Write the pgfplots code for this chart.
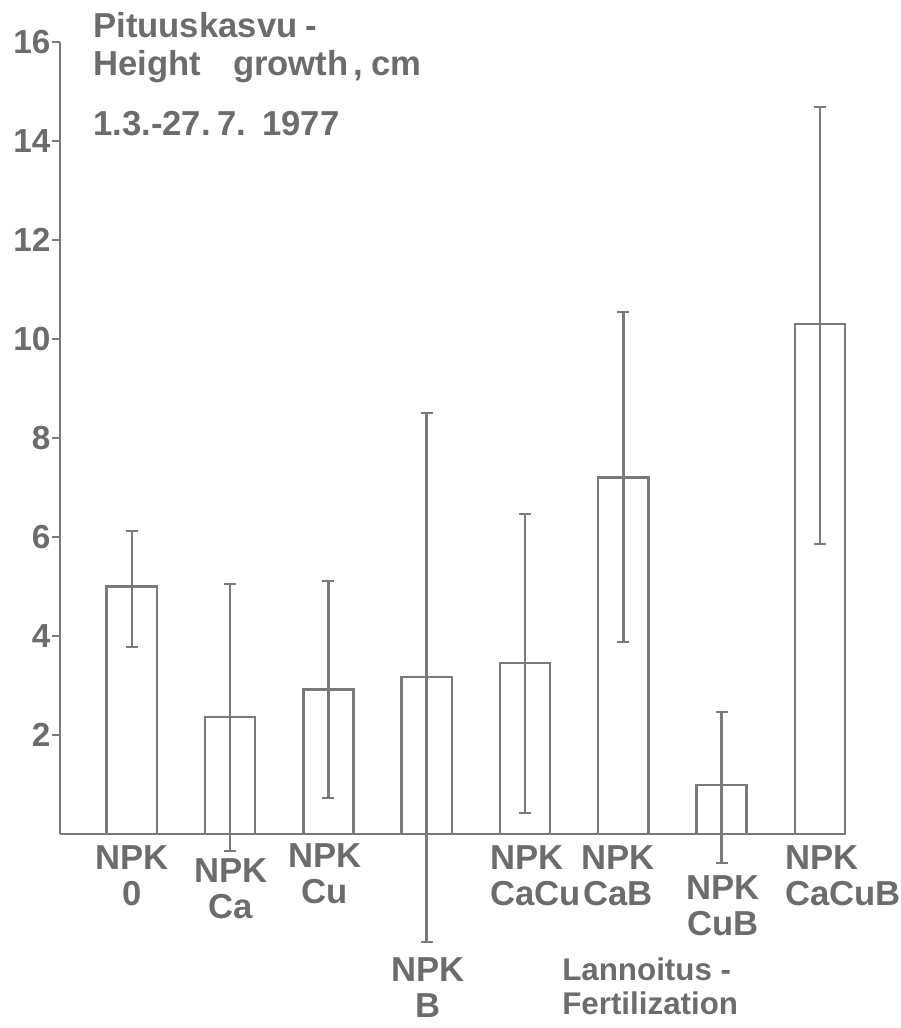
\documentclass[border=0pt]{standalone}
\usepackage{fontspec}
\setmainfont{Liberation Sans}
\usepackage{pgfplots}
\pgfplotsset{compat=1.18}
\definecolor{ink}{HTML}{7A7A7A}
\definecolor{txt}{HTML}{6C6C6C}
\begin{document}
% 1 px of the reference = 0.75pt
\begin{tikzpicture}
\path[use as bounding box] (-45pt,-145.5pt) rectangle (630pt,625.5pt);
\begin{axis}[
  at={(0,0)}, anchor=south west,
  scale only axis, width=588.75pt, height=594pt,
  xmin=0.27, xmax=8.255, ymin=0, ymax=16,
  axis x line*=bottom, axis y line*=left,
  axis line style={ink, line width=1.8pt},
  xtick=\empty,
  ytick={2,4,...,16},
  tick align=outside, major tick length=6pt,
  tick style={ink, line width=1.5pt},
  yticklabel style={font=\fontsize{25}{25}\selectfont\bfseries, text=txt, inner sep=1pt},
  /pgf/number format/assume math mode=true,
  clip=false,
  ybar, bar width=0.51, bar shift=0pt,
]
\addplot[draw=ink, fill=none, line width=1.8pt,
  error bars/.cd, y dir=both, y explicit,
  error bar style={ink, line width=1.8pt},
  error mark options={ink, line width=1.5pt, mark size=4.5pt, rotate=90}]
  coordinates {
  (1,5.00)  += (0,1.13) -= (0,1.23)
  (2,2.36)  += (0,2.70) -= (0,2.70)
  (3,2.92)  += (0,2.20) -= (0,2.19)
  (4,3.17)  += (0,5.34) -= (0,5.35)
  (5,3.45)  += (0,3.02) -= (0,3.03)
  (6,7.20)  += (0,3.34) -= (0,3.33)
  (7,0.99)  += (0,1.47) -= (0,1.57)
  (8,10.30) += (0,4.38) -= (0,4.45)
  };
\end{axis}
\begin{scope}[every node/.style={inner sep=0pt, text=txt,
    font=\fontsize{26}{27.5}\selectfont\bfseries}]
  % category labels
  \node[anchor=north, align=center] at (54pt,-8.25pt) {NPK\\0};
  \node[anchor=north, align=center] at (128.25pt,-18pt) {NPK\\Ca};
  \node[anchor=north, align=center] at (198.75pt,-6.75pt) {NPK\\Cu};
  \node[anchor=north, align=center] at (276pt,-92.25pt) {NPK\\B};
  \node[anchor=north west, align=left] at (322.5pt,-8.25pt) {NPK\\CaCu};
  \node[anchor=north, align=center] at (418.5pt,-8.25pt) {NPK\\CaB};
  \node[anchor=north, align=center] at (497.25pt,-30.75pt) {NPK\\CuB};
  \node[anchor=north west, align=left] at (543.75pt,-8.25pt) {NPK\\CaCuB};
  \node[anchor=north west, align=left, font=\fontsize{23.5}{25.5}\selectfont\bfseries]
    at (376.5pt,-93pt) {Lannoitus -\\Fertilization};
  % title
  \node[anchor=base west] at (24.75pt,597pt) {Pituuskasvu\hspace{6pt}-};
  \node[anchor=base west] at (24.75pt,569pt) {Height\hspace{24pt}growth\hspace{4pt},\hspace{6pt}cm};
  \node[anchor=base west] at (24.75pt,523.5pt) {1.3.-27.\hspace{5pt}7.\hspace{12pt}1977};
\end{scope}
\end{tikzpicture}
\end{document}
